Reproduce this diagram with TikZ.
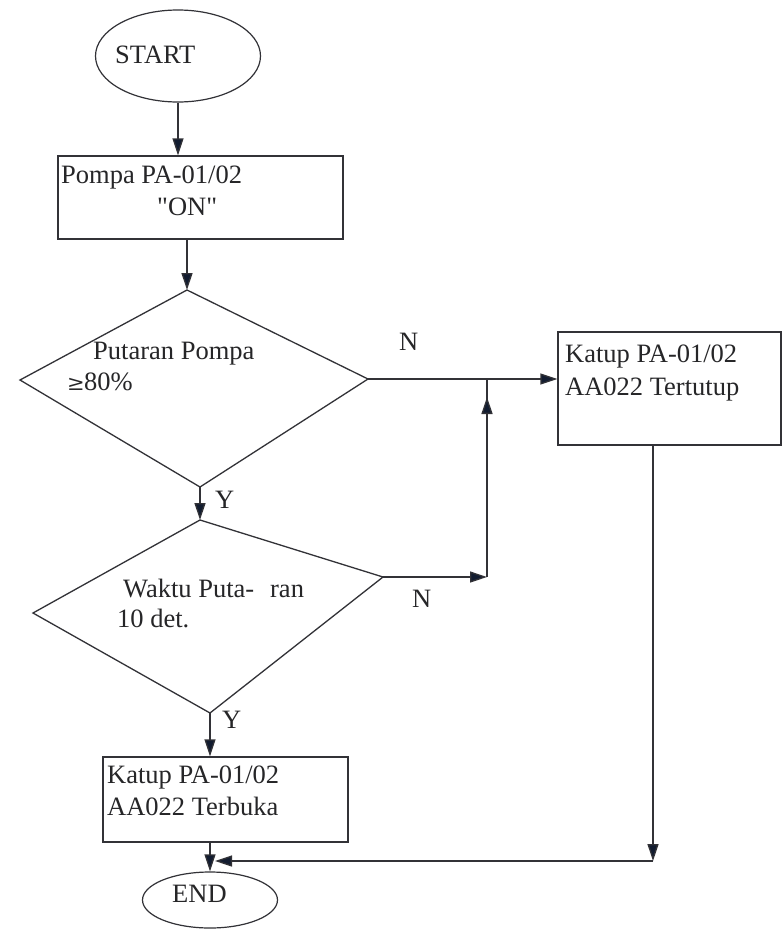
\documentclass[tikz,border=0pt]{standalone}
\usepackage{fontspec}
\setmainfont{Liberation Serif}
\newfontfamily\plainq{Liberation Serif}
\usetikzlibrary{arrows.meta,shapes.geometric,calc}
\definecolor{lc}{RGB}{50,50,55}
\definecolor{ac}{RGB}{18,28,48}
\definecolor{tc}{RGB}{38,38,40}
\begin{document}
\begin{tikzpicture}[x=1pt,y=-1pt,
  font=\fontsize{26.5}{30}\selectfont,
  box/.style={draw=lc, line width=1.3pt, rectangle, inner sep=0pt},
  term/.style={draw=lc, line width=1.2pt, ellipse, inner sep=0pt},
  lbl/.style={anchor=base west, inner sep=0pt, text=tc},
  ln/.style={draw=lc, line width=1.3pt},
  arr/.style={ln, -{Triangle[length=17pt,width=11pt,fill=ac]}},
]
\useasboundingbox[fill=white] (0,0) rectangle (784,929);

% terminals
\node[term, minimum width=165pt, minimum height=92pt] (start) at (178,56) {};
\node[lbl] (tstart) at (115,63) {START};
\node[term, minimum width=135pt, minimum height=56pt] (end) at (210,900) {};
\node[lbl] (tend) at (172,902) {END};

% process boxes
\node[box, minimum width=285pt, minimum height=83pt] (box1) at (200.5,197.5) {};
\node[lbl] (b1a) at (61,183) {Pompa PA-01/02};
\node[lbl] (b1b) at (157,215) {\plainq "ON"};

\node[box, minimum width=223pt, minimum height=113pt] (box2) at (669.5,388.5) {};
\node[lbl] (b2a) at (565,362) {Katup PA-01/02};
\node[lbl] (b2b) at (565,395) {AA022 Tertutup};

\node[box, minimum width=245pt, minimum height=85pt] (box3) at (225.5,799.5) {};
\node[lbl] (b3a) at (107,783) {Katup PA-01/02};
\node[lbl] (b3b) at (107,815) {AA022 Terbuka};

% decision 1
\coordinate (d1t) at (187,290);
\coordinate (d1r) at (368,379);
\coordinate (d1b) at (200,487);
\coordinate (d1l) at (20,380);
\draw[ln] (d1t) -- (d1r) -- (d1b) -- (d1l) -- cycle;
\node[lbl] (d1a) at (93,359) {Putaran Pompa};
\node[lbl] (d1c) at (67,390) {\fontspec{DejaVu Serif}\fontsize{21}{24}\selectfont≥};
\node[lbl] (d1d) at (84,390) {80\%};

% decision 2
\coordinate (d2t) at (200,520);
\coordinate (d2r) at (383,577);
\coordinate (d2b) at (210,713);
\coordinate (d2l) at (33,613);
\draw[ln] (d2t) -- (d2r) -- (d2b) -- (d2l) -- cycle;
\node[lbl] (d2a) at (123,597) {Waktu Puta-\hspace{0.6em}ran};
\node[lbl] (d2c) at (117,627) {10 det.};

% labels
\node[lbl] (y1) at (215,508) {Y};
\node[lbl] (y2) at (222,728) {Y};
\node[lbl] (n1) at (399,350) {N};
\node[lbl] (n2) at (412,607) {N};

% junction coordinates
\coordinate (j2) at (487,577);
\coordinate (j1) at (487,379);
\coordinate (c1) at (653,861);
\coordinate (c2) at (215,861);

% connectors
\draw[arr] (start.south) -- (start.south |- box1.north);
\draw[arr] (box1.south -| d1t) -- (d1t);
\draw[arr] (d1b) -- (d1b |- d2t);
\draw[arr] (d2b) -- (d2b |- box3.north);
\draw[arr] (box3.south -| end.north) -- (end.north);
\draw[arr] (d1r) -- (d1r -| box2.west);
\draw[arr] (d2r) -- (j2);
\draw[ln] (j2) -- (j1);
\draw[arr] (j2) -- ($(j1)+(0,18)$);
\draw[arr] (box2.south -| c1) -- (c1);
\draw[arr] (c1) -- (c2);
\end{tikzpicture}
\end{document}
